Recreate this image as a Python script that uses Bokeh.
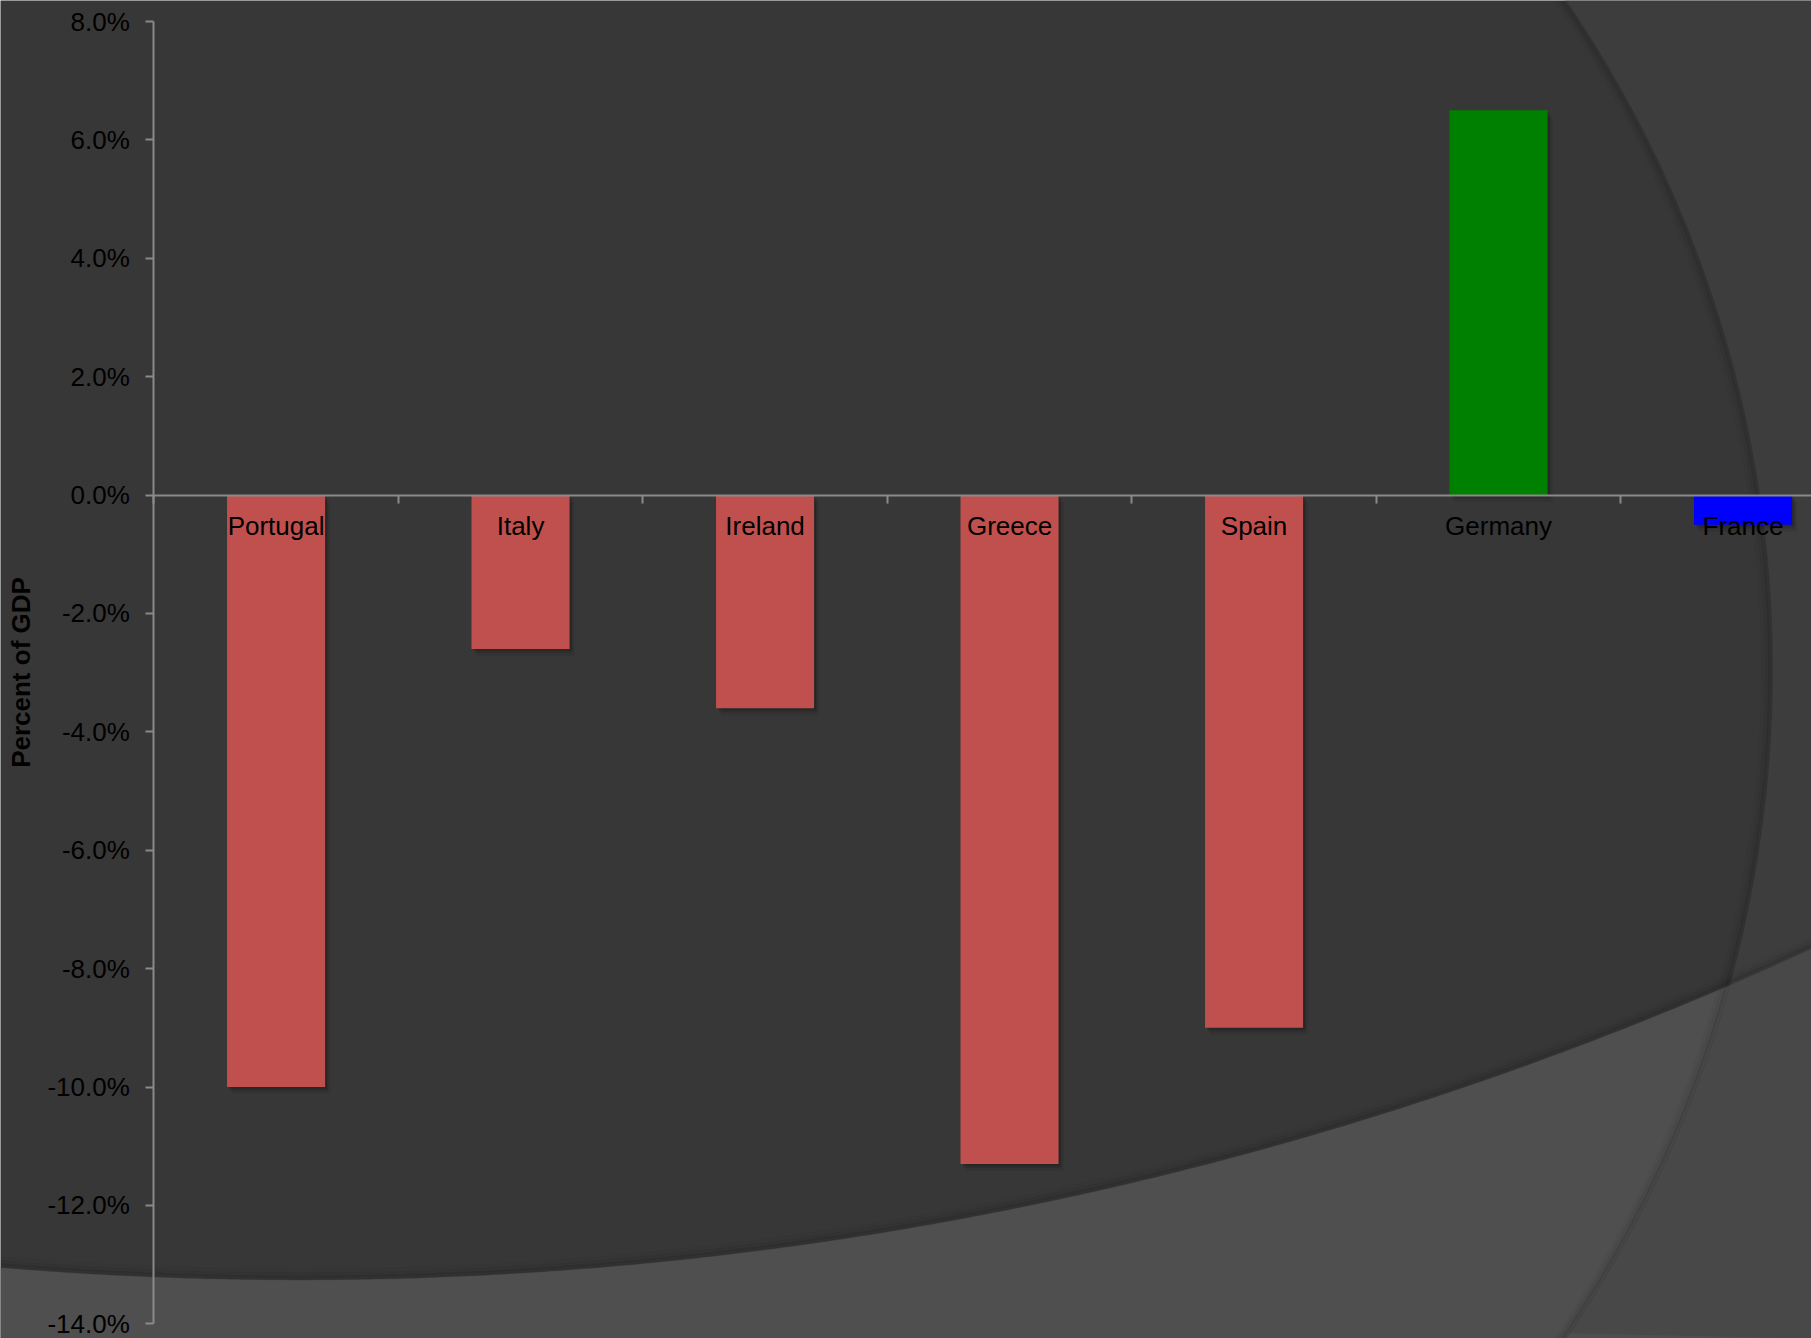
import numpy as np
from bokeh.plotting import figure
from bokeh.models import Range1d, FixedTicker, PrintfTickFormatter, ColumnDataSource
from bokeh.embed import file_html
from bokeh.resources import INLINE

# ---- data ----
countries = ["Portugal", "Italy", "Ireland", "Greece", "Spain", "Germany", "France"]
balance = [-10.0, -2.6, -3.6, -11.3, -9.0, 6.5, -0.5]   # percent of GDP
bar_colors = ["#C0504D", "#C0504D", "#C0504D", "#C0504D", "#C0504D", "#008000", "#0000FF"]
y_ticks = [-14, -12, -10, -8, -6, -4, -2, 0, 2, 4, 6, 8]
y_title = "Percent of GDP"

# ---- layout geometry (pixels of the slide) ----
W, H = 1811, 1338
AX_PX = 153.3      # x pixel of the value axis
CAT_PX = 244.5     # width of one category
TOP_PX = 21.0      # pixel of the top tick
UNIT_PX = 59.195   # pixels per 1 percentage point

x_start = -AX_PX / CAT_PX
x_end = (W - AX_PX) / CAT_PX
y_end = max(y_ticks) + TOP_PX / UNIT_PX
y_start = y_end - H / UNIT_PX

def px_x(px):
    return x_start + np.asarray(px, dtype=float) / W * (x_end - x_start)

def px_y(py):
    return y_end - np.asarray(py, dtype=float) / H * (y_end - y_start)

BG = "#373737"
p = figure(width=W, height=H,
           x_range=Range1d(x_start, x_end), y_range=Range1d(y_start, y_end),
           output_backend="svg", toolbar_location=None, min_border=0,
           background_fill_color=BG, border_fill_color=BG,
           outline_line_color=None)
p.grid.visible = False

# ---- slide theme decoration (background arcs) ----
cx, cy, R = 587.0, 669.0, 1185.0          # big circle
ca, cb, R2 = 299.2, -2334.6, 3614.0        # bottom arc
ys = np.linspace(0, H, 200)
arc_x = cx + np.sqrt(np.maximum(R**2 - (ys - cy)**2, 0))
xs = np.linspace(0, W, 300)
curve_y = cb + np.sqrt(R2**2 - (xs - ca)**2)

# outside big circle (right)
ox = np.concatenate([arc_x, [W, W]])
oy = np.concatenate([ys, [H, 0]])
p.patch(px_x(ox), px_y(oy), fill_color="#3d3d3d", line_color=None)

# bottom band
bx = np.concatenate([xs, [W, 0]])
by = np.concatenate([curve_y, [H, H]])
p.patch(px_x(bx), px_y(by), fill_color="#4f4f4f", line_color=None)

# bottom band outside the circle
def curve_at(x):
    return cb + np.sqrt(R2**2 - (x - ca)**2)
ys_f = np.linspace(0, H, 4000)
ax_f = cx + np.sqrt(np.maximum(R**2 - (ys_f - cy)**2, 0))
below = ys_f >= curve_at(ax_f)
i0 = np.argmax(below)
y_int, x_int = ys_f[i0], ax_f[i0]
sel_y = ys_f[i0::40]
sel_x = ax_f[i0::40]
cx_pts = np.linspace(W, x_int, 60)
ix = np.concatenate([[x_int], sel_x, [W], cx_pts])
iy = np.concatenate([[y_int], sel_y, [H], curve_at(cx_pts)])
p.patch(px_x(ix), px_y(iy), fill_color="#484848", line_color=None)

# soft edge shading along the arcs
for off, a in ((2, 0.10), (5, 0.06), (9, 0.03)):
    p.line(px_x(arc_x - off), px_y(ys), line_color="black", line_alpha=a, line_width=5)
    p.line(px_x(xs), px_y(curve_y - off), line_color="black", line_alpha=a, line_width=5)

# ---- bars ----
centers = np.arange(len(countries)) + 0.5
vals = np.array(balance, dtype=float)
src = ColumnDataSource(dict(x=centers, top=vals, color=bar_colors, name=countries))

# soft drop shadow (down-right)
for dx, dy, a in ((2, 2, 0.12), (3, 4, 0.10), (5, 7, 0.07)):
    sh = ColumnDataSource(dict(x=centers + dx / CAT_PX,
                               top=vals - dy / UNIT_PX,
                               bottom=np.zeros_like(vals) - dy / UNIT_PX))
    p.vbar(x="x", top="top", bottom="bottom", width=0.401, source=sh,
           fill_color="black", fill_alpha=a, line_color=None)

p.vbar(x="x", top="top", bottom=0, width=0.401, source=src,
       fill_color="color", line_color=None)

# ---- axes ----
AXC = "#8a8a8a"
xa = p.xaxis[0]
xa.fixed_location = 0
xa.bounds = (0, len(countries))
xa.ticker = FixedTicker(ticks=list(centers), minor_ticks=list(np.arange(len(countries) + 1, dtype=float)))
xa.major_label_overrides = {float(c): n for c, n in zip(centers, countries)}
xa.axis_line_color = AXC
xa.axis_line_width = 2
xa.major_tick_line_color = None
xa.major_tick_out = 0
xa.major_tick_in = 0
xa.minor_tick_line_color = AXC
xa.minor_tick_line_width = 2
xa.minor_tick_out = 8
xa.minor_tick_in = 0
xa.major_label_text_font = "Liberation Sans"
xa.major_label_text_font_size = "26px"
xa.major_label_text_color = "#000000"
xa.major_label_standoff = 8

ya = p.yaxis[0]
ya.fixed_location = 0
ya.bounds = (min(y_ticks), max(y_ticks))
ya.ticker = FixedTicker(ticks=y_ticks, minor_ticks=[])
ya.formatter = PrintfTickFormatter(format="%.1f%%")
ya.axis_line_color = AXC
ya.axis_line_width = 2
ya.major_tick_line_color = AXC
ya.major_tick_line_width = 2
ya.major_tick_out = 8
ya.major_tick_in = 0
ya.minor_tick_line_color = None
ya.major_label_text_font = "Liberation Sans"
ya.major_label_text_font_size = "26px"
ya.major_label_text_color = "#000000"
ya.major_label_standoff = 16
ya.axis_label = y_title
ya.axis_label_text_font = "Liberation Sans"
ya.axis_label_text_font_size = "26px"
ya.axis_label_text_font_style = "bold"
ya.axis_label_text_color = "#000000"
ya.axis_label_standoff = 8

open("out.html", "w").write(file_html(p, INLINE))
